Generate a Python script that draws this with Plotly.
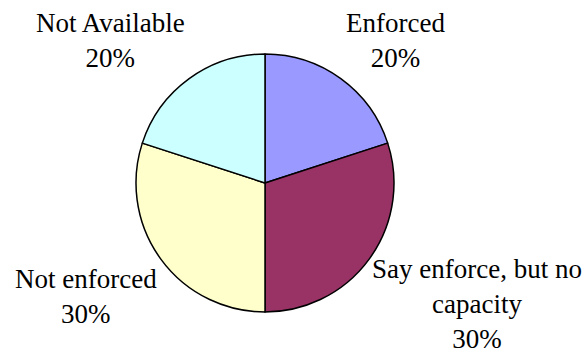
import plotly.graph_objects as go

# Enforcement status shares, clockwise from 12 o'clock
categories = ["Enforced", "Say enforce, but no<br>capacity", "Not enforced", "Not Available"]
values = [20, 30, 30, 20]
colors = ["#9999FF", "#993366", "#FFFFCC", "#CCFFFF"]

# Label anchor positions (pixels from top-left) for the outside labels
label_x = [396, 477, 86, 111]
label_y = [6, 252, 262, 6]

W, H = 586, 358
cx, cy, r = 265, 183, 129

total = sum(values)

fig = go.Figure(
    go.Pie(
        labels=categories,
        values=values,
        sort=False,
        direction="clockwise",
        rotation=0,
        marker=dict(colors=colors, line=dict(color="#000000", width=1.5)),
        textinfo="none",
        hoverinfo="label+percent",
        showlegend=False,
        domain=dict(
            x=[(cx - r) / W, (cx + r) / W],
            y=[1 - (cy + r) / H, 1 - (cy - r) / H],
        ),
    )
)

serif = "'Times New Roman', 'Liberation Serif', 'DejaVu Serif', serif"

annotations = []
for name, v, lx, ly in zip(categories, values, label_x, label_y):
    pct = round(100 * v / total)
    annotations.append(
        dict(
            x=lx / W,
            y=1 - ly / H,
            xref="paper",
            yref="paper",
            xanchor="center",
            yanchor="top",
            text=f"{name}<br>{pct}%",
            showarrow=False,
            align="center",
            font=dict(family=serif, size=27, color="#000000"),
        )
    )

fig.update_layout(
    width=W,
    height=H,
    margin=dict(l=0, r=0, t=0, b=0),
    paper_bgcolor="#FFFFFF",
    plot_bgcolor="#FFFFFF",
    font=dict(family=serif),
    annotations=annotations,
)

fig.write_html("out.html")
